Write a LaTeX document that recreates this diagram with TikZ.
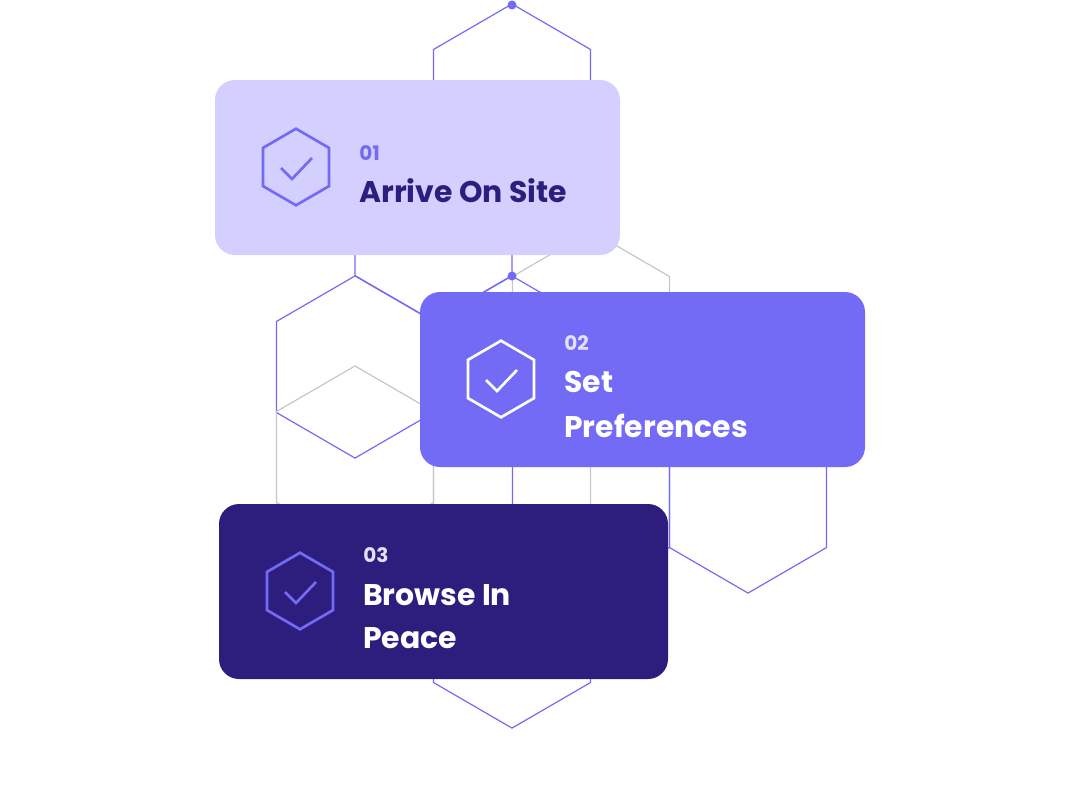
\documentclass[tikz,border=0pt]{standalone}
\usepackage{fontspec}
\setmainfont{Poppins}
\usetikzlibrary{positioning,calc}
\definecolor{lav}{HTML}{D3CFFE}
\definecolor{mid}{HTML}{736AF5}
\definecolor{ink}{HTML}{2D1E7E}
\definecolor{num}{HTML}{E2E0F2}
\definecolor{grid}{HTML}{C6C6C6}
\tikzset{
  card/.style={rounded corners=15pt,draw=none},
  num/.style={anchor=base west,font=\fontsize{15}{18}\selectfont\bfseries,inner sep=0},
  title/.style={anchor=base west,font=\fontsize{22.4}{26}\selectfont\bfseries,inner sep=0},
}
% pointy-top hexagon: centre, half-width in px
\newcommand{\hexa}[3][]{\draw[#1] ($(#2)+(0,-#3*1.16)$) -- ++(#3,#3*0.58) -- ++(0,#3*1.16) -- ++(-#3,#3*0.58) -- ++(-#3,-#3*0.58) -- ++(0,-#3*1.16) -- cycle;}
\begin{document}
\begin{tikzpicture}[x=0.75pt,y=-0.75pt]
  \useasboundingbox (0,0) rectangle (1084,800);
  % background honeycomb
  \foreach \c in {{512,95},{433.5,230},{355,367},{512,367},{591,502},{748,502},{512,637}}
    \hexa[mid,line width=0.9pt]{\c}{78.5};
  \foreach \c in {{591,322},{355,457},{512,502}}
    \hexa[grid,line width=0.9pt]{\c}{78.5};
  \fill[mid] (512,5) circle (4.5);
  \fill[mid] (512,276) circle (4.5);

  % step cards
  \fill[card,lav] (215,80) rectangle (620,255);
  \fill[card,mid] (420,292) rectangle (865,467);
  \fill[card,ink] (219,504) rectangle (668,679);

  % icons
  \hexa[mid,line width=2pt]{296,167}{33};
  \draw[mid,line width=2pt] (281,168) -- (292,179) -- (312,158);
  \hexa[white,line width=2pt]{501,379}{33};
  \draw[white,line width=2pt] (486,380) -- (497,391) -- (517,370);
  \hexa[mid,line width=2pt]{300,591}{33};
  \draw[mid,line width=2pt] (285,592) -- (296,603) -- (316,582);

  % labels
  \node[num,text=mid] (n1) at (359,160) {01};
  \node[title,text=ink] (t1) at (359,202) {Arrive On Site};
  \node[num,text=num] (n2) at (564,350) {02};
  \node[title,text=white] (t2) at (564,392) {Set};
  \node[title,text=white] (t2b) at (564,437) {Preferences};
  \node[num,text=num] (n3) at (363,562) {03};
  \node[title,text=white] (t3) at (363,605) {Browse In};
  \node[title,text=white] (t3b) at (363,648) {Peace};
\end{tikzpicture}
\end{document}
